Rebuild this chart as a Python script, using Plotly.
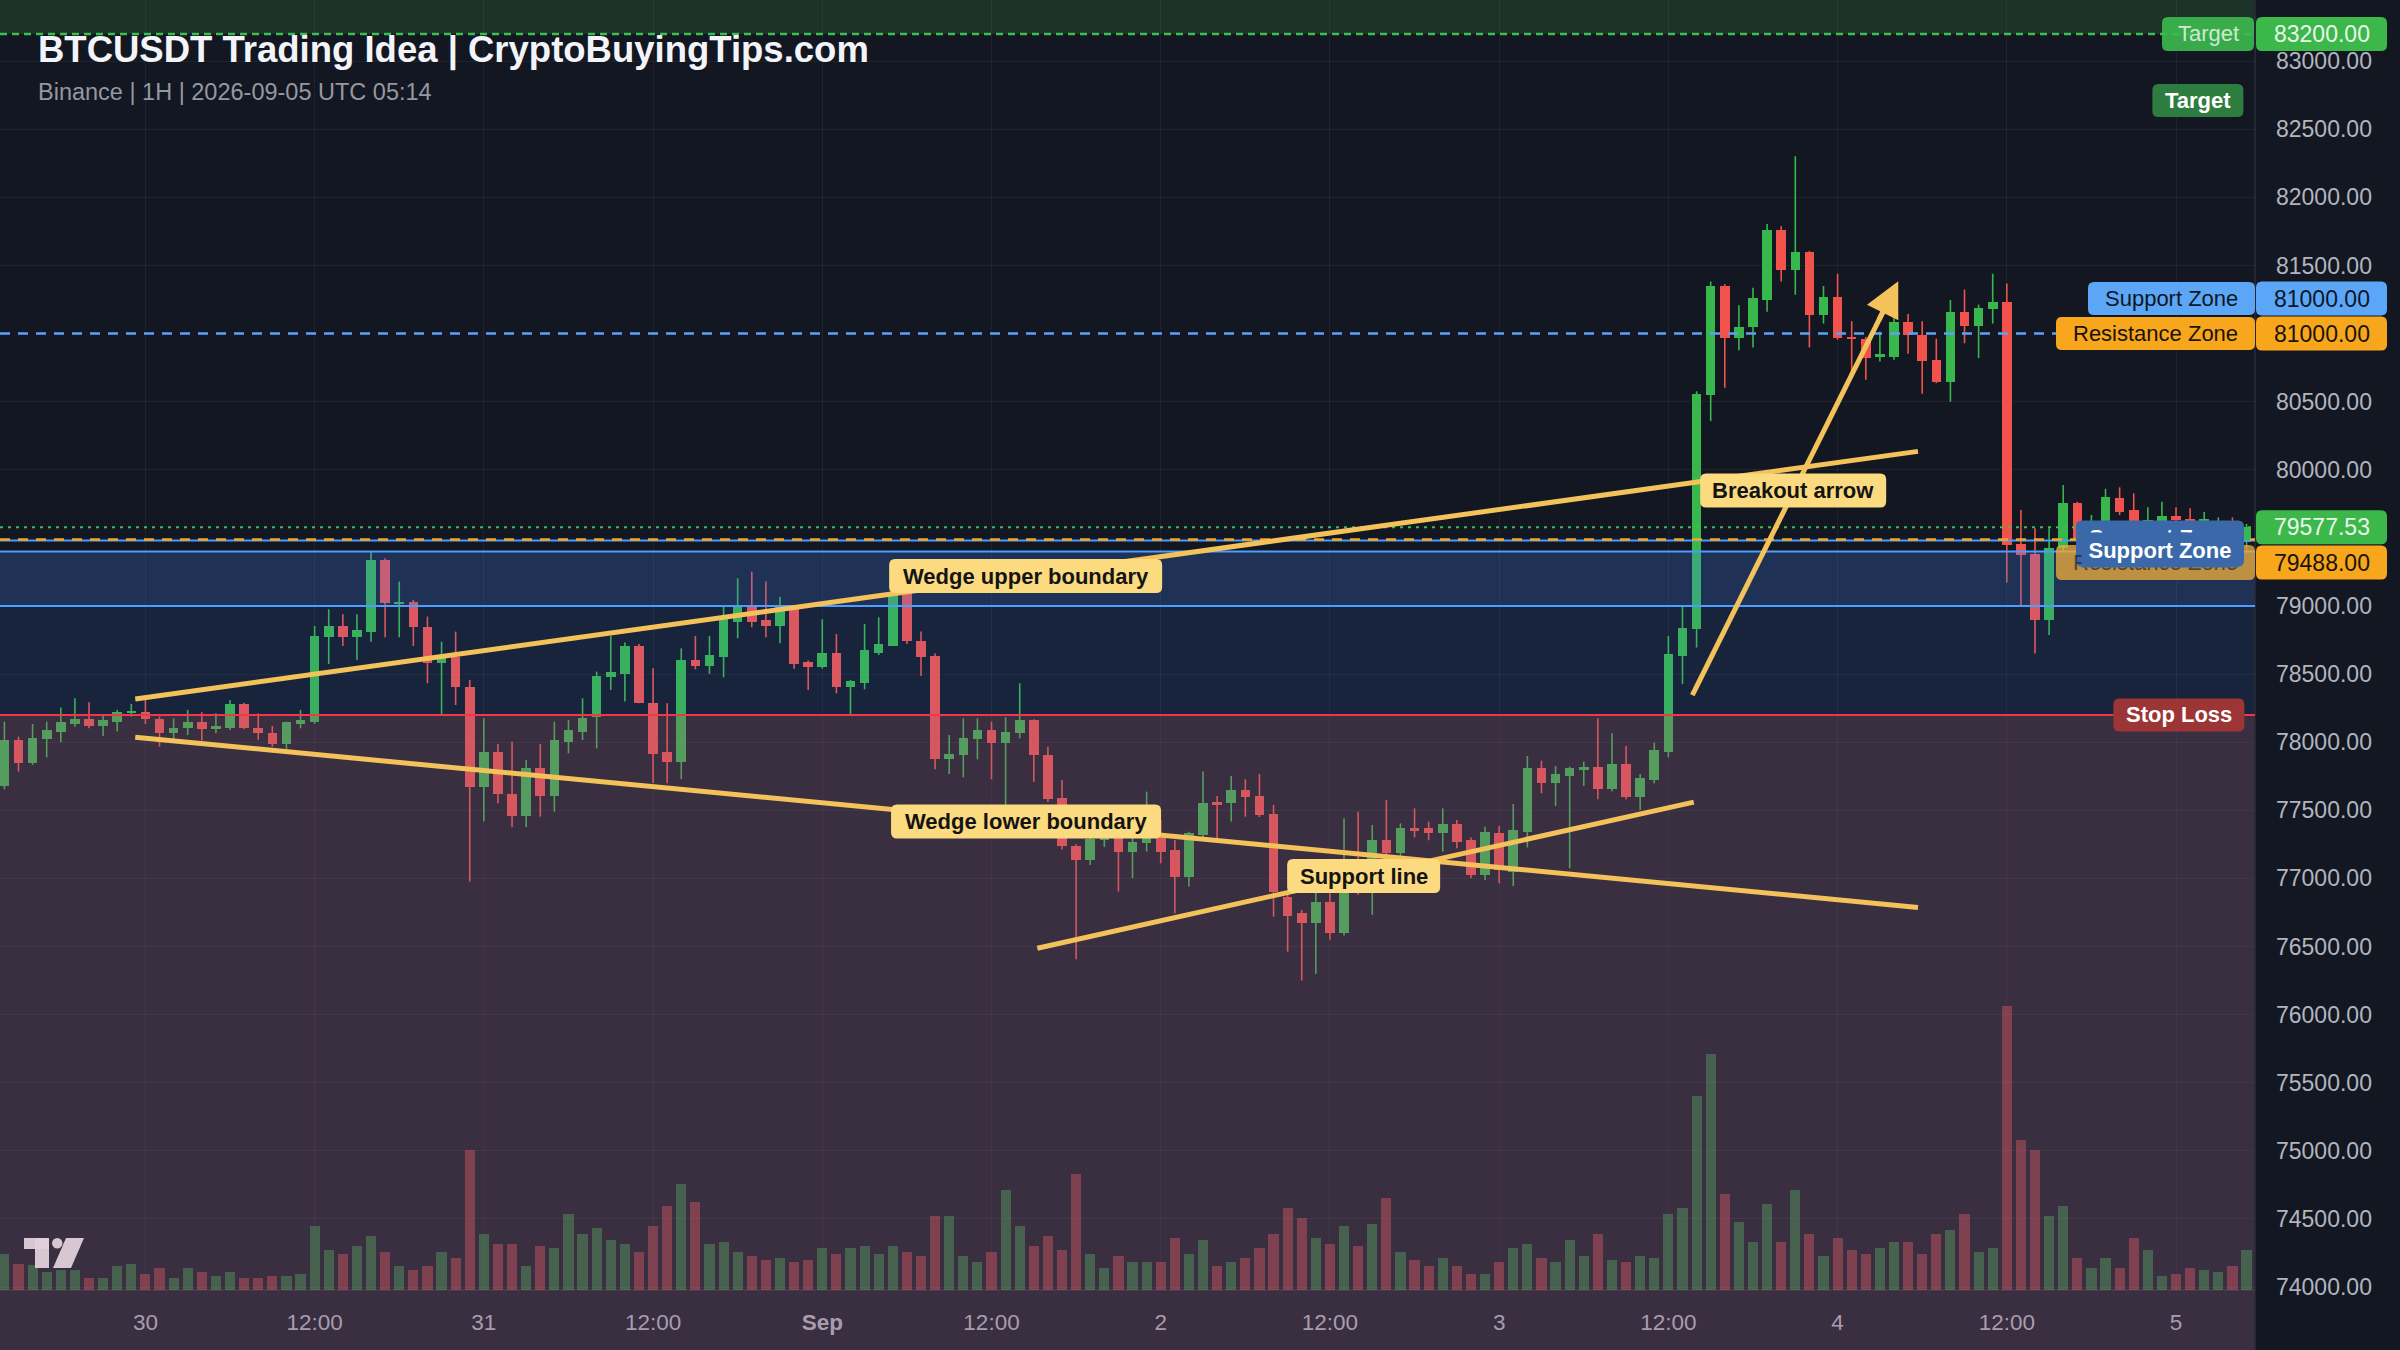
import plotly.graph_objects as go
import pandas as pd

# ---------------- DATA ----------------
START = "2026-08-29 14:00"   # first hourly candle

opens = [77679, 78016, 77845, 78021, 78078, 78134, 78170, 78119, 78151, 78215,
 78220, 78168, 78065, 78102, 78146, 78095, 78102, 78281, 78102, 78065,
 77987, 78134, 78151, 78770, 78853, 78770, 78812, 79338, 79020, 79032,
 78844, 78579, 78623, 78403, 77669, 77931, 77620, 77458, 77808, 77605,
 78004, 78078, 78188, 78477, 78501, 78706, 78290, 77931, 77857, 78604,
 78560, 78623, 78885, 79000, 78897, 78853, 78990, 78591, 78555, 78652,
 78403, 78432, 78657, 78706, 79093, 78745, 78633, 77874, 77906, 78021,
 78090, 77992, 78065, 78163, 77906, 77588, 77238, 77135, 77287, 77300,
 77197, 77258, 77307, 77209, 77008, 77319, 77556, 77556, 77649, 77605,
 77473, 76860, 76744, 76670, 76830, 76597, 77000, 76930, 77282, 77184,
 77368, 77368, 77331, 77400, 77282, 77025, 77336, 77050, 77343, 77808,
 77698, 77752, 77796, 77820, 77654, 77840, 77595, 77723, 77930, 78633,
 78833, 80551, 81349, 80970, 81048, 81246, 81761, 81470, 81599, 81135,
 81272, 80975, 80963, 80826, 80826, 81084, 80988, 80808, 80646, 81161,
 81058, 81182, 81233, 79455, 79382, 78897, 79423, 79753, 79484, 79600,
 79790, 79705, 79600, 79619, 79660, 79640, 79600, 79590, 79625, 79470]

highs = [78151, 78041, 78134, 78151, 78254, 78322, 78293, 78193, 78237, 78281,
 78310, 78188, 78175, 78237, 78220, 78212, 78310, 78290, 78212, 78119,
 78151, 78237, 78853, 78976, 78939, 78939, 79399, 79350, 79179, 79044,
 78922, 78738, 78812, 78457, 78175, 77987, 78004, 77869, 77987, 78151,
 78163, 78322, 78518, 78780, 78731, 78720, 78542, 78285, 78689, 78780,
 78780, 79007, 79203, 79252, 79179, 79068, 79000, 78600, 78902, 78794,
 78457, 78868, 78917, 79117, 79117, 78812, 78652, 78053, 78175, 78175,
 78151, 78183, 78432, 78168, 77967, 77723, 77250, 77300, 77330, 77320,
 77295, 77637, 77429, 77282, 77343, 77784, 77605, 77752, 77728, 77767,
 77539, 76903, 76768, 76903, 76891, 77441, 77490, 77392, 77576, 77404,
 77514, 77417, 77514, 77429, 77300, 77380, 77385, 77546, 77899, 77864,
 77825, 77821, 77857, 78175, 78065, 77972, 77767, 77997, 78780, 78995,
 80576, 81382, 81362, 81207, 81336, 81805, 81787, 82302, 81607, 81349,
 81439, 81091, 80975, 81014, 81143, 81143, 81091, 80963, 81246, 81323,
 81212, 81439, 81367, 79705, 79570, 79570, 79888, 79765, 79668, 79860,
 79871, 79827, 79724, 79766, 79724, 79717, 79690, 79650, 79650, 79602]

lows = [77654, 77784, 77833, 77889, 77999, 78114, 78102, 78046, 78078, 78188,
 78134, 77967, 78024, 78053, 78012, 78065, 78090, 78095, 78017, 77967,
 77948, 78102, 78134, 78574, 78706, 78604, 78738, 78770, 78770, 78706,
 78432, 78207, 78273, 76976, 77417, 77551, 77375, 77375, 77453, 77490,
 77918, 78016, 77955, 78383, 78298, 78285, 77698, 77698, 77728, 78535,
 78501, 78476, 78763, 78844, 78770, 78726, 78540, 78383, 78540, 78359,
 78193, 78388, 78640, 78706, 78720, 78486, 77801, 77767, 77742, 77874,
 77728, 77539, 78028, 77710, 77560, 77213, 76406, 77099, 77230, 76903,
 77001, 77197, 77111, 76744, 76940, 77282, 77295, 77417, 77453, 77450,
 76719, 76462, 76250, 76300, 76550, 76580, 76880, 76732, 77150, 77160,
 77300, 77280, 77197, 77221, 77001, 76989, 76964, 76944, 77228, 77625,
 77532, 77074, 77679, 77581, 77640, 77580, 77502, 77698, 77889, 78427,
 78696, 80357, 80602, 80878, 80898, 81161, 81382, 81285, 80898, 81073,
 80955, 80718, 80661, 80795, 80808, 80852, 80558, 80636, 80499, 80929,
 80821, 81073, 79173, 78995, 78652, 78787, 79400, 79440, 79450, 79560,
 79668, 79580, 79560, 79580, 79590, 79560, 79560, 79560, 79550, 79420]

closes = [78016, 77845, 78028, 78090, 78151, 78170, 78119, 78163, 78220, 78222,
 78168, 78065, 78102, 78146, 78095, 78119, 78281, 78102, 78065, 77987,
 78146, 78163, 78780, 78853, 78770, 78824, 79338, 79020, 79032, 78844,
 78579, 78623, 78403, 77669, 77931, 77620, 77458, 77808, 77605, 78016,
 78090, 78175, 78486, 78518, 78706, 78290, 77914, 77857, 78604, 78560,
 78640, 78902, 79007, 78885, 78853, 78990, 78574, 78555, 78652, 78403,
 78452, 78677, 78721, 79093, 78745, 78628, 77874, 77911, 78028, 78090,
 77992, 78078, 78163, 77906, 77581, 77238, 77135, 77287, 77300, 77197,
 77270, 77295, 77197, 77008, 77331, 77556, 77546, 77649, 77595, 77466,
 76903, 76724, 76670, 76830, 76597, 76891, 76930, 77282, 77184, 77368,
 77355, 77331, 77400, 77270, 77025, 77343, 77062, 77356, 77808, 77698,
 77767, 77808, 77820, 77654, 77840, 77595, 77735, 77943, 78648, 78836,
 80558, 81349, 80970, 81048, 81259, 81761, 81470, 81599, 81135, 81272,
 80970, 80963, 80821, 80847, 81084, 80988, 80795, 80646, 81161, 81058,
 81187, 81233, 79448, 79374, 78897, 79423, 79753, 79484, 79600, 79800,
 79692, 79619, 79630, 79660, 79631, 79600, 79640, 79625, 79580, 79577.53]

volumes = [540, 395, 380, 270, 300, 300, 180, 180, 360, 395,
 240, 335, 180, 330, 270, 210, 270, 180, 180, 210,
 210, 240, 960, 595, 540, 660, 810, 570, 360, 300,
 360, 570, 480, 2100, 840, 690, 690, 360, 660, 630,
 1140, 840, 930, 750, 690, 570, 960, 1260, 1590, 1320,
 690, 720, 570, 510, 450, 480, 420, 450, 630, 540,
 630, 660, 540, 660, 570, 510, 1110, 1110, 510, 420,
 570, 1500, 960, 660, 810, 600, 1740, 540, 330, 510,
 420, 420, 420, 780, 540, 750, 360, 420, 480, 630,
 840, 1230, 1080, 780, 690, 960, 660, 990, 1380, 570,
 450, 360, 480, 360, 240, 240, 420, 630, 690, 480,
 420, 750, 510, 840, 450, 420, 510, 480, 1140, 1230,
 2910, 3540, 1440, 1020, 720, 1290, 720, 1500, 840, 510,
 780, 600, 540, 630, 720, 720, 540, 840, 900, 1140,
 570, 630, 4260, 2250, 2100, 1110, 1260, 480, 330, 480,
 330, 780, 600, 210, 240, 330, 300, 270, 360, 600]

x_tick_labels = ["30", "12:00", "31", "12:00", "<b>Sep</b>", "12:00", "2", "12:00",
                 "3", "12:00", "4", "12:00", "5"]
x_tick_start = "2026-08-30 00:00"

TARGET = 83200
STOP_LOSS = 78200
ZONE_81K = 81000
ZONE_LEVEL = 79488
SUPPORT_TOP = 79400
SUPPORT_BOTTOM = 79000
LAST_PRICE = 79577.53

# trend lines: (hours since START, price)
wedge_upper = [(9.28, 78317), (135.7, 80135)]
wedge_lower = [(9.28, 78036), (135.7, 76787)]
support_line = [(73.25, 76487), (119.8, 77560)]
breakout_arrow = [(119.7, 78345), (134.3, 81385)]

# ---------------- GEOMETRY / STYLE ----------------
PW, PH = 2255, 1290            # plot area in px
XMIN_H, XMAX_H = -0.312, 159.6  # hours relative to START
YMIN, YMAX = 73978, 83449
VOL_MAX = 19350

BG = "#131722"
UP = "#38b74c"
DN = "#f2524c"
GOLD = "#f4c25b"
LABEL_BG = "#fcda80"
FONT = "Liberation Sans, Arial, sans-serif"

t0 = pd.Timestamp(START)
def T(h):
    return t0 + pd.Timedelta(hours=h)

times = [T(i) for i in range(len(opens))]

def xpx(h):
    return (h - XMIN_H) / (XMAX_H - XMIN_H) * PW

def ypx(p):
    return (YMAX - p) / (YMAX - YMIN) * PH

def PX(x):
    return x / PW

def PY(y):
    return 1 - y / PH

def rrect(x0, y0, x1, y1, fill, r=6):
    X = lambda v: f"{PX(v):.6f}"
    Y = lambda v: f"{PY(v):.6f}"
    path = (f"M {X(x0+r)},{Y(y0)} L {X(x1-r)},{Y(y0)} Q {X(x1)},{Y(y0)} {X(x1)},{Y(y0+r)} "
            f"L {X(x1)},{Y(y1-r)} Q {X(x1)},{Y(y1)} {X(x1-r)},{Y(y1)} "
            f"L {X(x0+r)},{Y(y1)} Q {X(x0)},{Y(y1)} {X(x0)},{Y(y1-r)} "
            f"L {X(x0)},{Y(y0+r)} Q {X(x0)},{Y(y0)} {X(x0+r)},{Y(y0)} Z")
    return dict(type="path", xref="paper", yref="paper", path=path,
                fillcolor=fill, line=dict(width=0), layer="above")

fig = go.Figure()

# ---------------- TRACES ----------------
up = [c >= o for o, c in zip(opens, closes)]

fig.add_trace(go.Bar(
    x=times, y=volumes, yaxis="y2",
    marker=dict(color=["rgba(61,186,78,0.45)" if u else "rgba(240,82,79,0.45)" for u in up],
                line=dict(width=0)),
    width=0.72 * 3.6e6, hoverinfo="skip"))

for flag, col in ((True, UP), (False, DN)):
    wx, wy = [], []
    for t, h, l, u in zip(times, highs, lows, up):
        if u == flag:
            wx += [t, t, None]
            wy += [l, h, None]
    fig.add_trace(go.Scatter(x=wx, y=wy, mode="lines", line=dict(color=col, width=1.6),
                             hoverinfo="skip", connectgaps=False))

body_base = [min(o, c) for o, c in zip(opens, closes)]
body_h = [max(abs(c - o), 12) for o, c in zip(opens, closes)]
fig.add_trace(go.Bar(
    x=times, y=body_h, base=body_base,
    marker=dict(color=[UP if u else DN for u in up], line=dict(width=0)),
    width=0.68 * 3.6e6, hoverinfo="skip"))

# ---------------- SHAPES ----------------
shapes = []

# TradingView-like logo (drawn under the stop-loss tint)
LOGO = "rgba(255,255,255,0.95)"
shapes.append(dict(type="rect", xref="paper", yref="paper", x0=PX(24), x1=PX(49), y0=PY(1249), y1=PY(1238),
                   fillcolor=LOGO, line=dict(width=0), layer="above"))
shapes.append(dict(type="rect", xref="paper", yref="paper", x0=PX(35), x1=PX(49), y0=PY(1268), y1=PY(1238),
                   fillcolor=LOGO, line=dict(width=0), layer="above"))
shapes.append(dict(type="circle", xref="paper", yref="paper", x0=PX(52), x1=PX(62.5), y0=PY(1248.5), y1=PY(1238),
                   fillcolor=LOGO, line=dict(width=0), layer="above"))
shapes.append(dict(type="path", xref="paper", yref="paper",
                   path=f"M {PX(66)},{PY(1238)} L {PX(84)},{PY(1238)} L {PX(71)},{PY(1268)} L {PX(53)},{PY(1268)} Z",
                   fillcolor=LOGO, line=dict(width=0), layer="above"))

# zones
shapes.append(dict(type="rect", xref="paper", yref="y", x0=0, x1=1, y0=TARGET, y1=YMAX,
                   fillcolor="rgba(76,175,80,0.18)", line=dict(width=0), layer="above"))
shapes.append(dict(type="rect", xref="paper", yref="y", x0=0, x1=1, y0=STOP_LOSS, y1=SUPPORT_BOTTOM,
                   fillcolor="rgba(66,133,244,0.12)", line=dict(width=0), layer="above"))
shapes.append(dict(type="rect", xref="paper", yref="y", x0=0, x1=1, y0=SUPPORT_BOTTOM, y1=SUPPORT_TOP,
                   fillcolor="rgba(66,133,244,0.25)", line=dict(width=0), layer="above"))
shapes.append(dict(type="rect", xref="paper", yref="paper", x0=0, x1=1, y0=-60 / PH, y1=PY(ypx(STOP_LOSS)),
                   fillcolor="rgba(150,100,140,0.30)", line=dict(width=0), layer="above"))

# separators
shapes.append(dict(type="line", xref="paper", yref="paper", x0=1, x1=1, y0=-60 / PH, y1=1,
                   line=dict(color="#2a2e39", width=1.5), layer="above"))
shapes.append(dict(type="line", xref="paper", yref="paper", x0=0, x1=1, y0=0, y1=0,
                   line=dict(color="rgba(255,255,255,0.08)", width=1.5), layer="above"))

# horizontal levels
def hline(y, color, width=2, dash="solid"):
    shapes.append(dict(type="line", xref="paper", yref="y", x0=0, x1=1, y0=y, y1=y,
                       line=dict(color=color, width=width, dash=dash), layer="above"))

hline(TARGET, "#3cbf4f", 2.5, "7px,5px")
hline(ZONE_81K, "#5ba3f5", 2.5, "10px,8px")
hline(SUPPORT_TOP, "#4a9eff", 2)
hline(SUPPORT_BOTTOM, "#4a9eff", 2)
hline(ZONE_LEVEL - 8, "#4a9eff", 2)
hline(ZONE_LEVEL, "#f5a623", 2.5, "10px,8px")
hline(LAST_PRICE, "#3cbf4f", 2, "3px,5px")
hline(STOP_LOSS, "#f23645", 2)

# trend lines
for (h0, p0), (h1, p1) in (wedge_upper, wedge_lower, support_line):
    shapes.append(dict(type="line", xref="x", yref="y", x0=T(h0), y0=p0, x1=T(h1), y1=p1,
                       line=dict(color=GOLD, width=5), layer="above"))

# breakout arrow shaft
(ah0, ap0), (ah1, ap1) = breakout_arrow
ax0, ay0, ax1, ay1 = xpx(ah0), ypx(ap0), xpx(ah1), ypx(ap1)
dx, dy = ax1 - ax0, ay1 - ay0
L = (dx * dx + dy * dy) ** 0.5
ux, uy = dx / L, dy / L
shapes.append(dict(type="line", xref="paper", yref="paper",
                   x0=PX(ax0), y0=PY(ay0), x1=PX(ax1 - ux * 20), y1=PY(ay1 - uy * 20),
                   line=dict(color=GOLD, width=5), layer="above"))

annotations = []

def add_label(cx, cy, w, h, text, fill, color, bold=True, size=22, r=6):
    shapes.append(rrect(cx - w / 2, cy - h / 2, cx + w / 2, cy + h / 2, fill, r))
    annotations.append(dict(x=PX(cx), y=PY(cy), xref="paper", yref="paper", showarrow=False,
                            text=f"<b>{text}</b>" if bold else text, xanchor="center", yanchor="middle",
                            font=dict(family=FONT, size=size, color=color)))

# chart labels (anchored on data positions)
add_label(xpx(72.42), ypx(79220), 273, 34, "Wedge upper boundary", LABEL_BG, "#141414")
add_label(xpx(72.45), ypx(77418), 270, 34, "Wedge lower boundary", LABEL_BG, "#141414")
add_label(xpx(96.39), ypx(77017), 153, 34, "Support line", LABEL_BG, "#141414")
add_label(xpx(126.85), ypx(79848), 186, 34, "Breakout arrow", LABEL_BG, "#141414")
add_label(xpx(155.55), ypx(82711), 91, 33, "Target", "#2e7d40", "#ffffff")
add_label(xpx(154.2), ypx(STOP_LOSS), 131, 33, "Stop Loss", "#9c3535", "#ffffff")

# right-edge level labels
add_label((2162 + 2254) / 2, ypx(TARGET), 92, 34, "Target", "rgba(61,186,78,0.9)",
          "rgba(255,255,255,0.75)", bold=False)
add_label((2088 + 2255) / 2, ypx(ZONE_81K) - 35, 167, 33, "Support Zone", "#5ca6f7", "#0d1726", bold=False)
add_label((2056 + 2255) / 2, ypx(ZONE_81K), 199, 33, "Resistance Zone", "#f8a61c", "#1a1408", bold=False)
add_label((2056 + 2255) / 2, ypx(ZONE_LEVEL) + 23, 199, 35, "Resistance Zone", "rgba(236,170,60,0.78)",
          "rgba(25,25,25,0.65)", bold=False)
add_label(2160, ypx(ZONE_LEVEL) - 2, 168, 34, "Support Zone", "#3a68a8", "#ffffff")
# front support label: rounded shape + inset opaque annotation box so it covers labels beneath
shapes.append(rrect(2076, ypx(ZONE_LEVEL) + 10 - 17, 2244, ypx(ZONE_LEVEL) + 10 + 17, "#3a68a8"))
front_support = dict(x=PX(2160), y=PY(ypx(ZONE_LEVEL) + 10), xref="paper", yref="paper", showarrow=False,
                     text="<b>Support Zone</b>", xanchor="center", yanchor="middle",
                     width=156, height=34, bgcolor="#3a68a8", borderpad=0,
                     font=dict(family=FONT, size=22, color="#ffffff"))

# price-axis tags
def add_tag(cy, text, fill, color):
    add_label((2256 + 2387) / 2, cy, 131, 34, text, fill, color, bold=False, size=23)

add_tag(ypx(TARGET), f"{TARGET:.2f}", "#3cb84a", "#eaf6ea")
add_tag(ypx(ZONE_81K) - 35, f"{ZONE_81K:.2f}", "#5ca6f7", "#0d1726")
add_tag(ypx(ZONE_81K), f"{ZONE_81K:.2f}", "#f8a61c", "#1a1408")
add_tag(ypx(LAST_PRICE), f"{LAST_PRICE:.2f}", "#3cb84a", "#eaf6ea")
add_tag(ypx(ZONE_LEVEL) + 23, f"{ZONE_LEVEL:.2f}", "#f8a61c", "#1a1408")

annotations.append(front_support)

# arrowhead
annotations.append(dict(x=T(ah1), y=ap1, xref="x", yref="y", text="", showarrow=True,
                        ax=-ux * 45, ay=-uy * 45, axref="pixel", ayref="pixel",
                        arrowhead=2, arrowsize=1.4, arrowwidth=5, arrowcolor=GOLD, standoff=0))

# title & subtitle
annotations.append(dict(x=PX(36), y=PY(50), xref="paper", yref="paper", showarrow=False,
                        text="<b>BTCUSDT Trading Idea | CryptoBuyingTips.com</b>",
                        xanchor="left", yanchor="middle",
                        font=dict(family=FONT, size=36.5, color="#f2f4f8")))
annotations.append(dict(x=PX(36), y=PY(92), xref="paper", yref="paper", showarrow=False,
                        text="Binance | 1H | 2026-09-05 UTC 05:14",
                        xanchor="left", yanchor="middle",
                        font=dict(family=FONT, size=23.5, color="#9598a1")))

# ---------------- AXES / LAYOUT ----------------
x_tick_vals = list(pd.date_range(x_tick_start, periods=len(x_tick_labels), freq="12h"))
price_ticks = [v for v in range(74000, 83001, 500) if v not in (79500, 81000)]

fig.update_layout(
    width=2400, height=1350, autosize=False,
    margin=dict(l=0, r=145, t=0, b=60, pad=0),
    paper_bgcolor=BG, plot_bgcolor=BG,
    barmode="overlay", bargap=0, showlegend=False, hovermode=False,
    shapes=shapes, annotations=annotations,
    xaxis=dict(type="date", range=[T(XMIN_H), T(XMAX_H)],
               tickvals=x_tick_vals, ticktext=x_tick_labels,
               showgrid=True, gridcolor="rgba(255,255,255,0.05)", gridwidth=1,
               zeroline=False, showline=False, ticks="", ticklabelstandoff=16,
               tickfont=dict(family=FONT, size=22.5, color="#b2b5be"),
               rangeslider=dict(visible=False), fixedrange=True),
    yaxis=dict(side="right", range=[YMIN, YMAX],
               tickvals=price_ticks, ticktext=[f"{v:.2f}" for v in price_ticks],
               showgrid=True, gridcolor="rgba(255,255,255,0.055)", gridwidth=1,
               zeroline=False, showline=False, ticks="", ticklabelstandoff=20,
               tickfont=dict(family=FONT, size=23, color="#b2b5be"), fixedrange=True),
    yaxis2=dict(overlaying="y", range=[0, VOL_MAX], visible=False, fixedrange=True),
)

fig.write_html(
    "out.html",
    config={"displayModeBar": False},
    post_script="document.body.style.margin='0';document.body.style.background='#131722';"
                "document.body.style.overflow='hidden';",
)
